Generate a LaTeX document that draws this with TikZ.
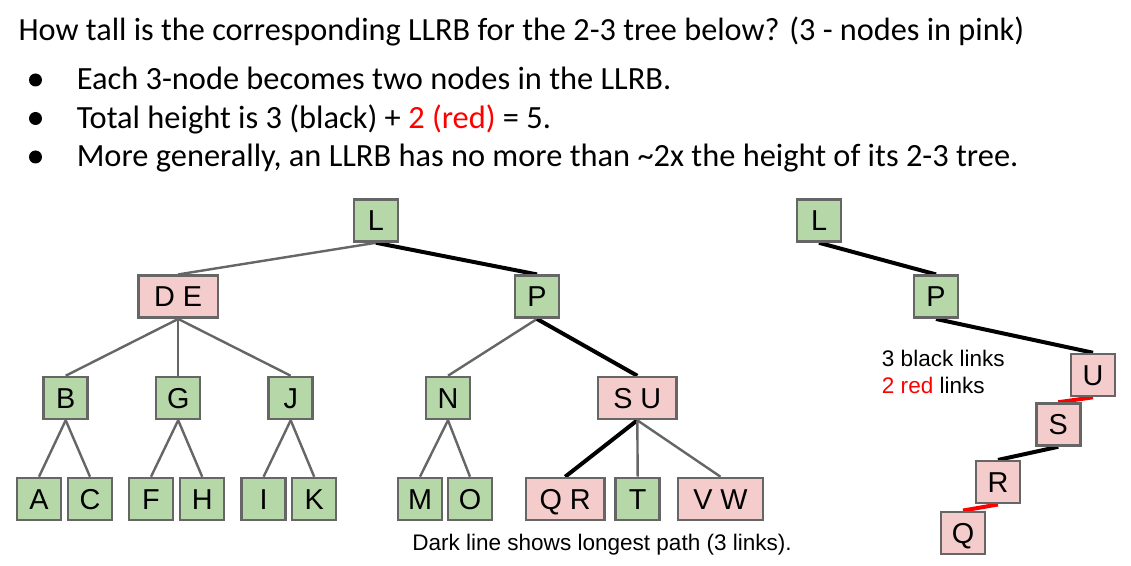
\documentclass[tikz,border=0pt]{standalone}
\usepackage{fontspec}
\setmainfont{Liberation Sans}
\newfontfamily\slidefont{Carlito}
\usetikzlibrary{backgrounds}
\definecolor{leafgreen}{HTML}{B6D7A8}
\definecolor{pinkfill}{HTML}{F4CCCC}
\definecolor{edgegray}{HTML}{666666}
\definecolor{linkred}{HTML}{FF0000}
\begin{document}
\begin{tikzpicture}[x=0.75pt,y=-0.75pt,
  box/.style={draw=edgegray,line width=1.9pt,inner sep=0pt,
    minimum height=31.5pt,font=\fontsize{21.6}{24}\selectfont,
    text height=15.4pt,text depth=0pt},
  one/.style={box,minimum width=33pt},
  two/.style={box,minimum width=59pt},
  gnode/.style={fill=leafgreen},
  pnode/.style={fill=pinkfill},
  thin/.style={draw=edgegray,line width=1.8pt},
  thick/.style={draw=black,line width=3pt},
  redlink/.style={draw=linkred,line width=3pt},
  head/.style={anchor=base west,inner sep=0pt,font=\slidefont\fontsize{24.2}{28}\selectfont},
  item/.style={anchor=base west,inner sep=0pt,font=\slidefont\fontsize{24.3}{28}\selectfont},
  note/.style={anchor=base west,inner sep=0pt,font=\fontsize{16.9}{20}\selectfont}
]
\useasboundingbox (0,0) rectangle (1131,566);

% heading and bullet list
\node[head] (title) at (18.3,40.7) {How tall is the corresponding LLRB for the 2-3 tree below? (3 - nodes in pink)};
\fill (35.5,80) circle (6.5);
\fill (35.5,118.5) circle (6.5);
\fill (35.5,157) circle (6.5);
\node[item] (b1) at (76.5,90) {Each 3-node becomes two nodes in the LLRB.};
\node[item] (b2) at (76.5,128.5) {Total height is 3 (black) + \textcolor{linkred}{2 (red)} = 5.};
\node[item] (b3) at (76.5,167) {More generally, an LLRB has no more than \~{}2x the height of its 2-3 tree.};

% 2-3 tree
\node[one,gnode] (L) at (376,220.5) {L};
\node[two,pnode,minimum width=59.5pt] (DE) at (178.2,296.7) {D E};
\node[one,gnode] (P) at (537,296.7) {P};
\node[one,gnode] (B) at (65.7,398) {B};
\node[one,gnode] (G) at (178.2,398) {G};
\node[one,gnode] (J) at (290.7,398) {J};
\node[one,gnode] (N) at (448,398) {N};
\node[two,pnode] (SU) at (637.3,398) {S U};
\node[one,gnode] (A) at (39,499) {A};
\node[one,gnode] (C) at (90,499) {C};
\node[one,gnode] (F) at (151,499) {F};
\node[one,gnode] (H) at (202.2,499) {H};
\node[one,gnode] (I) at (263.6,499) {I};
\node[one,gnode] (K) at (314.2,499) {K};
\node[one,gnode] (M) at (420,499) {M};
\node[one,gnode] (O) at (470,499) {O};
\node[two,pnode] (QR) at (565.2,499) {Q R};
\node[one,gnode] (T) at (637.7,499) {T};
\node[two,pnode,minimum width=64pt] (VW) at (720.5,499) {V W};
\node[note] (caption) at (412,550.7) {Dark line shows longest path (3 links).};

% equivalent LLRB path
\node[one,gnode] (L2) at (819,220.5) {L};
\node[one,gnode] (P2) at (936,296.7) {P};
\node[one,pnode] (U2) at (1093,375) {U};
\node[one,pnode] (S2) at (1058.3,424.5) {S};
\node[one,pnode] (R2) at (998,482.2) {R};
\node[one,pnode] (Q2) at (963,532.8) {Q};
\node[note] (blk) at (881.7,366.7) {3 black links};
\node[note] (red) at (881.7,393.3) {\textcolor{linkred}{2 red} links};

\begin{pgfonlayer}{background}
  \fill[white] (0,0) rectangle (1131,566);
  \draw[thin] (L.south) -- (DE.north);
  \draw[thick] (L.south) -- (P.north);
  \draw[thin] (DE.south) -- (B.north);
  \draw[thin] (DE.south) -- (G.north);
  \draw[thin] (DE.south) -- (J.north);
  \draw[thin] (P.south) -- (N.north);
  \draw[thick] (P.south) -- (SU.north);
  \draw[thin] (B.south) -- (A.north);
  \draw[thin] (B.south) -- (C.north);
  \draw[thin] (G.south) -- (F.north);
  \draw[thin] (G.south) -- (H.north);
  \draw[thin] (J.south) -- (I.north);
  \draw[thin] (J.south) -- (K.north);
  \draw[thin] (N.south) -- (M.north);
  \draw[thin] (N.south) -- (O.north);
  \draw[thick] (SU.south) -- (QR.north);
  \draw[thin] (SU.south) -- (T.north);
  \draw[thin] (SU.south) -- (VW.north);
  \draw[thick] (L2.south) -- (P2.north);
  \draw[thick] (P2.south) -- (U2.north);
  \draw[redlink] (U2.south) -- (S2.north);
  \draw[thick] (S2.south) -- (R2.north);
  \draw[redlink] (R2.south) -- (Q2.north);
\end{pgfonlayer}
\end{tikzpicture}
\end{document}
